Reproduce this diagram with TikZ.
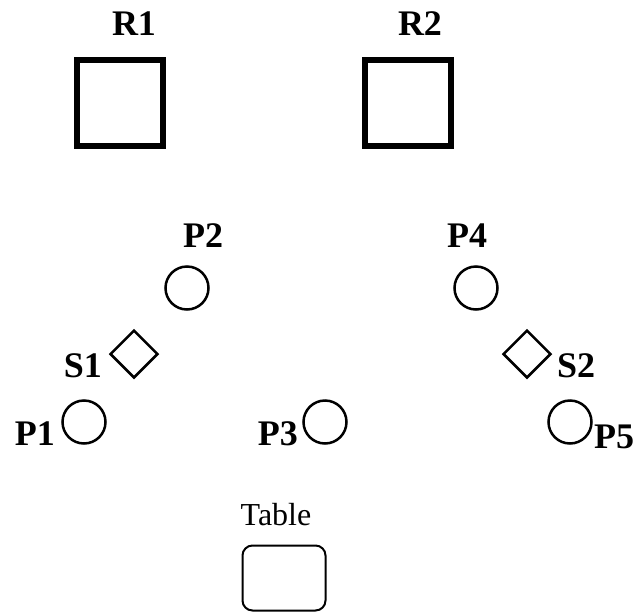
\documentclass[tikz,border=0pt]{standalone}
\usepackage{fontspec}
\setmainfont{Liberation Serif}
\usetikzlibrary{shapes.geometric}
\begin{document}
\begin{tikzpicture}[x=1pt,y=-1pt,
    robot/.style={draw,line width=6pt,minimum size=86pt,inner sep=0pt},
    place/.style={draw,circle,line width=2.5pt,minimum size=43pt,inner sep=0pt},
    sensor/.style={draw,diamond,line width=2.5pt,minimum size=48pt,inner sep=0pt},
    lbl/.style={font=\fontsize{36}{36}\selectfont\bfseries,inner sep=0pt}]
    \useasboundingbox (0,0) rectangle (641,614);
    % Robots
    \node[robot] (r1) at (120,103) {};
    \node[robot] (r2) at (408,103) {};
    \node[lbl,anchor=base] (r1lbl) at (134,35) {R1};
    \node[lbl,anchor=base] (r2lbl) at (420,35) {R2};
    % Places
    \node[place] (p1) at (84,422) {};
    \node[place] (p2) at (187,288) {};
    \node[place] (p3) at (325,422) {};
    \node[place] (p4) at (476,288) {};
    \node[place] (p5) at (570,422) {};
    \node[lbl,anchor=base east] (p1lbl) at (55,445) {P1};
    \node[lbl,anchor=base] (p2lbl) at (203,247) {P2};
    \node[lbl,anchor=base east] (p3lbl) at (298,445) {P3};
    \node[lbl,anchor=base] (p4lbl) at (467,247) {P4};
    \node[lbl,anchor=base west] (p5lbl) at (594,448) {P5};
    % Capteurs
    \node[sensor] (s1) at (134,354) {};
    \node[sensor] (s2) at (527,354) {};
    \node[lbl,anchor=base east] (s1lbl) at (102,377) {S1};
    \node[lbl,anchor=base west] (s2lbl) at (557,377) {S2};
    % Table
    \node[draw,line width=2pt,rounded corners=10pt,minimum width=83pt,minimum height=65pt] (table) at (284,578) {};
    \node[font=\fontsize{32}{32}\selectfont,inner sep=0pt,anchor=base] (tablelbl) at (276,525) {Table};
\end{tikzpicture}
\end{document}
